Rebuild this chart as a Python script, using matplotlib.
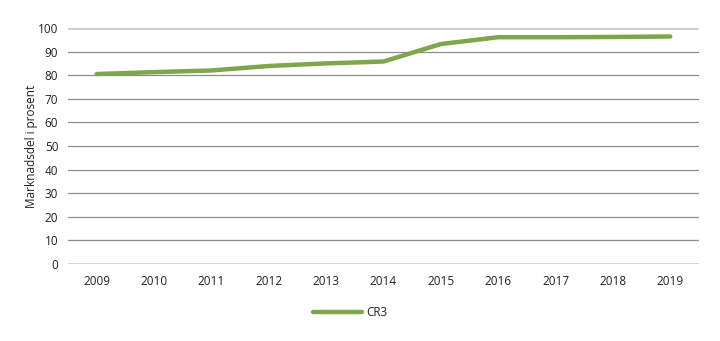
import matplotlib
matplotlib.use("Agg")
import matplotlib.pyplot as plt

years = ["2009", "2010", "2011", "2012", "2013", "2014", "2015", "2016", "2017", "2018", "2019"]
cr3 = [80.5, 81.3, 82.0, 83.9, 85.0, 85.8, 93.2, 96.1, 96.1, 96.2, 96.4]
yticks = [0, 10, 20, 30, 40, 50, 60, 70, 80, 90, 100]

plt.rcParams['font.family'] = ['Liberation Sans Narrow', 'Open Sans', 'DejaVu Sans']

fig = plt.figure(figsize=(7.2, 3.41), dpi=100)
ax = fig.add_axes([68/720, 1 - 264/341, (699-68)/720, (264-28)/341])

x = list(range(len(years)))
for t in yticks:
    if t in (0, 100):
        ax.axhline(t, color='#c8c8c8', lw=1.8, zorder=1)
    else:
        ax.axhline(t, color='#8c8c8c', lw=0.9, zorder=1)

ax.plot(x, cr3, color='#7fa64a', lw=3.2, solid_capstyle='round', label='CR3', zorder=3)

ax.set_xlim(-0.5, len(years) - 0.5)
ax.set_ylim(0, 100)
ax.set_xticks(x)
ax.set_xticklabels(years, fontsize=8.5, color='#222222')
ax.set_yticks(yticks)
ax.set_yticklabels([str(t) for t in yticks], fontsize=8.5, color='#222222')
ax.tick_params(axis='both', length=0, pad=8)
ax.tick_params(axis='y', pad=7)
for s in ax.spines.values():
    s.set_visible(False)
ax.set_ylabel('Marknadsdel i prosent', fontsize=8.5, color='#222222', labelpad=0)

leg = fig.legend(loc='center', bbox_to_anchor=(350/720, 1 - 313/341), frameon=False,
                 fontsize=8.5, handlelength=4.2, handletextpad=0.3)
plt.setp(leg.get_texts(), color='#222222')

fig.savefig('out.png', dpi=100)
